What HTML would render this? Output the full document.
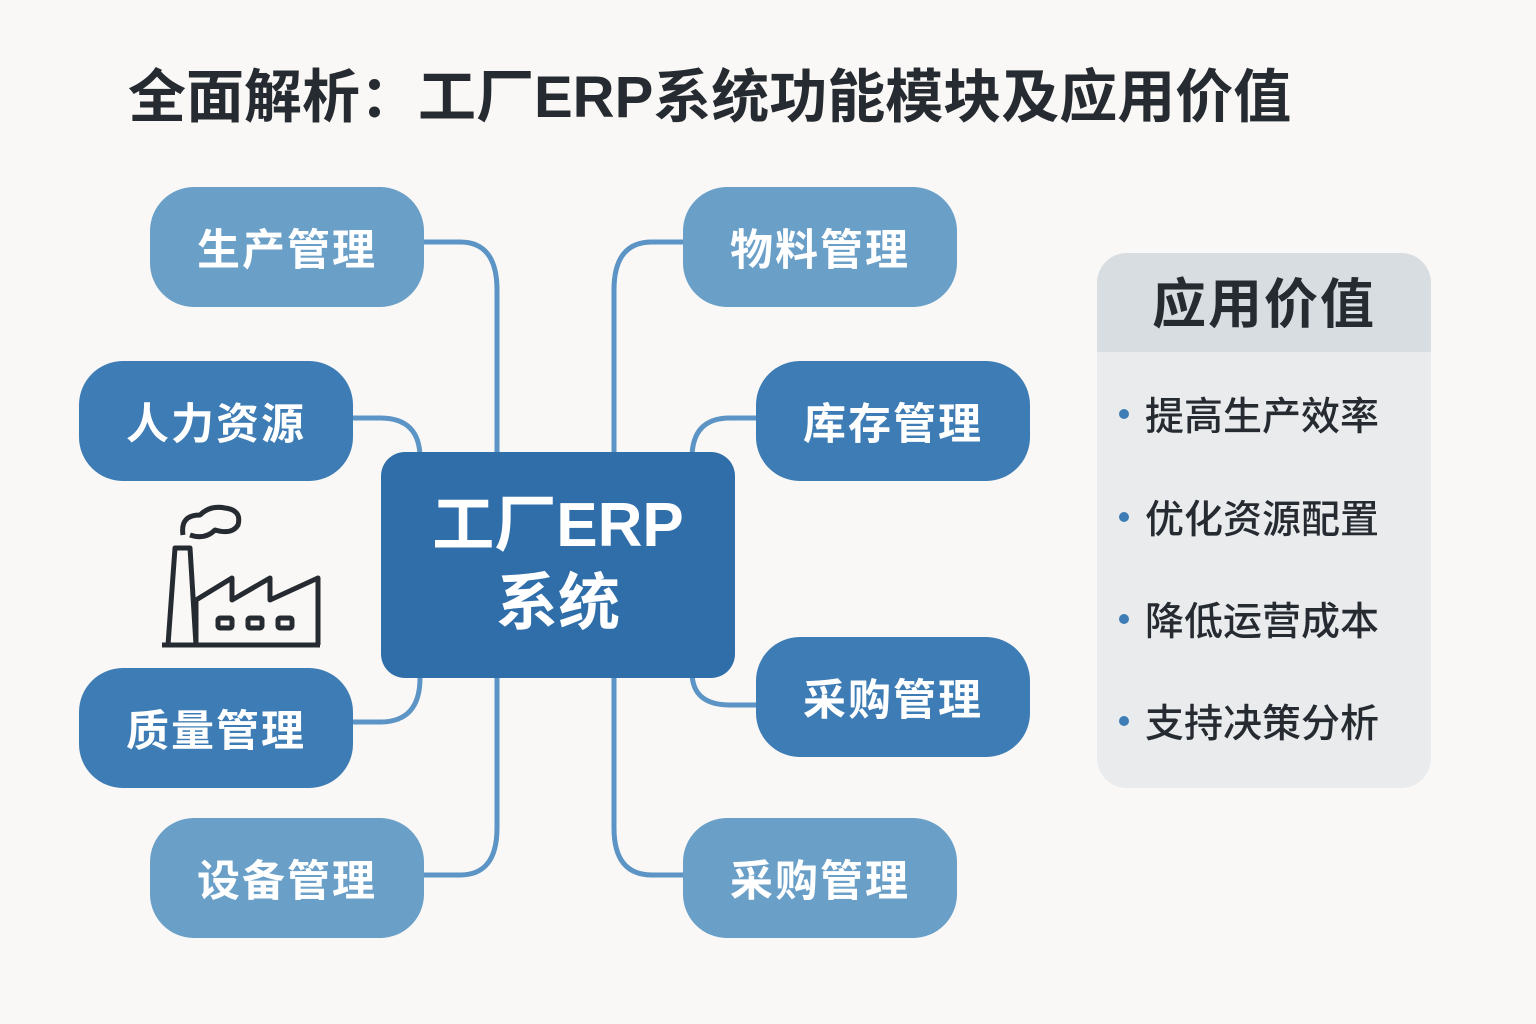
<!DOCTYPE html>
<html><head><meta charset="utf-8"><style>
html,body{margin:0;padding:0}
body{width:1536px;height:1024px;background:#f9f8f6;position:relative;overflow:hidden;font-family:"Liberation Sans","Noto Sans CJK SC",sans-serif}
.t{position:absolute;left:128px;top:50px;font-size:58px;font-weight:bold;color:#262b31;letter-spacing:0;white-space:nowrap}
.n{position:absolute;width:274px;height:120px;border-radius:44px;color:#fff;font-size:43px;font-weight:bold;display:flex;align-items:center;justify-content:center;letter-spacing:2px}
.l{background:#6a9fc8}.d{background:#3d7cb4}
.c{position:absolute;left:381px;top:452px;width:354px;height:226px;border-radius:24px;background:#2f6ea9;color:#fff;font-size:62px;font-weight:bold;text-align:center;line-height:78px;padding-top:35px;box-sizing:border-box}
.p{position:absolute;left:1097px;top:253px;width:334px;height:535px;border-radius:30px;background:#e9ebed;overflow:hidden}
.ph{height:99px;background:#d8dde1;font-size:54px;font-weight:bold;color:#262b31;text-align:center;line-height:104px;letter-spacing:2px}
.it{position:absolute;left:48px;font-size:39px;font-weight:500;color:#262b31;white-space:nowrap}
.dot{position:absolute;left:22px;width:10px;height:10px;border-radius:50%;background:#3d7cb4}
</style></head><body>
<div class="t">全面解析：工厂ERP系统功能模块及应用价值</div>
<svg width="1536" height="1024" style="position:absolute;left:0;top:0" fill="none" stroke="#5b94c5" stroke-width="5">
<path d="M420 242 H460 Q497 242 497 290 V828 Q497 875 460 875 H420"/>
<path d="M690 242 H652 Q614 242 614 290 V828 Q614 875 652 875 H690"/>
<path d="M350 418 H380 Q420 418 420 458"/>
<path d="M350 722 H380 Q420 722 420 678"/>
<path d="M760 418 H730 Q692 418 692 458"/>
<path d="M760 705 H730 Q692 705 692 672"/>
<g stroke="#262b31" stroke-width="5" stroke-linejoin="round">
<path d="M162 645 H320"/>
<path d="M168 645 L175 548 H190 L196 645"/>
<path d="M196 645 V600 L232 578 V600 L270 578 V600 L318 578 V645"/>
<path d="M183 535 Q180 515 200 515 Q210 505 225 508 Q242 510 238 525 Q232 535 215 530 Q205 540 190 535"/>
<rect x="218" y="618" width="14" height="10" rx="2"/><rect x="248" y="618" width="14" height="10" rx="2"/><rect x="278" y="618" width="14" height="10" rx="2"/>
</g>
</svg>
<div class="n l" style="left:150px;top:187px">生产管理</div>
<div class="n d" style="left:79px;top:361px">人力资源</div>
<div class="n d" style="left:79px;top:668px">质量管理</div>
<div class="n l" style="left:150px;top:818px">设备管理</div>
<div class="n l" style="left:683px;top:187px">物料管理</div>
<div class="n d" style="left:756px;top:361px">库存管理</div>
<div class="n d" style="left:756px;top:637px">采购管理</div>
<div class="n l" style="left:683px;top:818px">采购管理</div>
<div class="c">工厂ERP<br>系统</div>
<div class="p"><div class="ph">应用价值</div>
<div class="dot" style="top:156px"></div><div class="it" style="top:133px">提高生产效率</div>
<div class="dot" style="top:259px"></div><div class="it" style="top:236px">优化资源配置</div>
<div class="dot" style="top:361px"></div><div class="it" style="top:338px">降低运营成本</div>
<div class="dot" style="top:463px"></div><div class="it" style="top:440px">支持决策分析</div>
</div>
</body></html>
